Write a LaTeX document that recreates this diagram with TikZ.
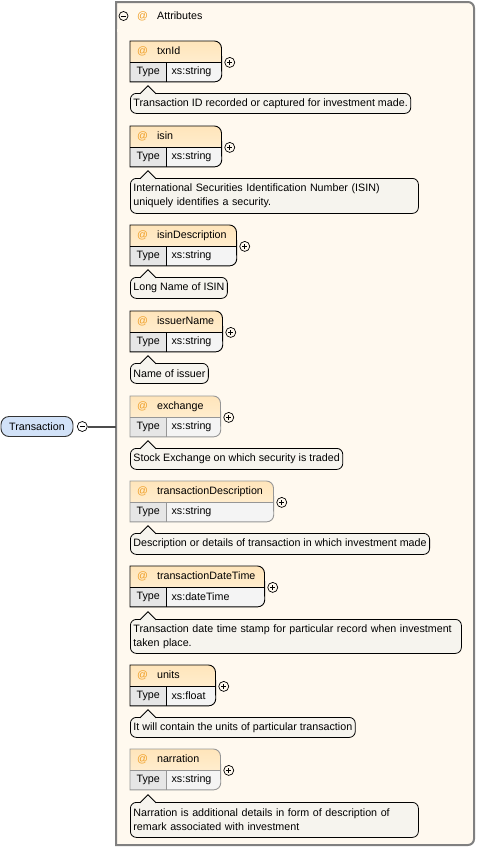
\documentclass[tikz,border=0pt]{standalone}
\usepackage{fontspec}
\setmainfont{Liberation Sans}
\usepackage{tikz}
\usetikzlibrary{positioning,calc,backgrounds}
\definecolor{paneCream}{RGB}{255,249,239}
\definecolor{paneGray}{RGB}{128,128,128}
\definecolor{nameTop}{RGB}{255,229,186}
\definecolor{nameBottom}{RGB}{255,244,224}
\definecolor{typeGray}{RGB}{230,230,230}
\definecolor{valueGray}{RGB}{244,244,244}
\definecolor{docFill}{RGB}{246,244,238}
\definecolor{atOrange}{RGB}{240,160,40}
\definecolor{rootBlue}{RGB}{210,226,248}
\definecolor{optGray}{RGB}{150,150,150}

\begin{document}
\begin{tikzpicture}[x=1pt, y=-1pt, font=\fontsize{10.7}{14}\selectfont,
    attname/.style={anchor=north west, minimum height=21, inner xsep=7, inner ysep=0, align=left},
    atttype/.style={anchor=north west, minimum width=36, minimum height=19, inner sep=0},
    attvalue/.style={anchor=north west, minimum height=19, inner xsep=5, inner ysep=0, align=left},
    attfill/.style={fill=valueGray, path picture={
        \shade[top color=nameTop, bottom color=nameBottom] (#1.north west) rectangle (#1.south east);
        \fill[typeGray] (#1T.north west) rectangle (#1T.south east);}},
    reqline/.style={draw=black, line width=0.9pt},
    optline/.style={draw=optGray, line width=0.9pt},
    expander/.style={circle, draw, line width=0.7pt, minimum size=10, inner sep=0,
        path picture={\draw ([xshift=-2.6pt]path picture bounding box.center) -- ([xshift=2.6pt]path picture bounding box.center)
                            ([yshift=-2.6pt]path picture bounding box.center) -- ([yshift=2.6pt]path picture bounding box.center);}},
    collapser/.style={circle, draw, line width=0.7pt, minimum size=10, inner sep=0,
        path picture={\draw ([xshift=-2.6pt]path picture bounding box.center) -- ([xshift=2.6pt]path picture bounding box.center);}},
    docnote/.style={anchor=north west, draw, line width=0.8pt, fill=docFill, rounded corners=6,
        inner xsep=3, inner ysep=0, minimum height=21, align=left},
    notetip/.style={draw, line width=0.8pt, preaction={fill=docFill}},
    pane/.style={draw=paneGray, line width=2pt, fill=paneCream},
    rootnode/.style={draw=black!80, line width=0.9pt, fill=rootBlue, rounded corners=8,
        minimum width=72, minimum height=20, inner sep=0},
    rootline/.style={draw=black!70, line width=2pt}]
  \useasboundingbox (0,0) rectangle (493,847);

  % root element
  \node[rootnode] (transaction) at (37,426.5) {Transaction};
  \node[collapser, right=3.5pt of transaction] (transToggle) {};
  \coordinate (attrPane) at (116,426.5);
  \draw[rootline] (transToggle) -- (attrPane);

  % attributes header
  \node[collapser, minimum size=9] (attrToggle) at (123.5,16) {};
  \node[text=atOrange, inner sep=0] (attrAt) at (142.5,16) {@};
  \node[anchor=west, inner sep=0] (attrTitle) at (157,16) {Attributes};
  \shade[left color=paneCream, middle color=black!30, right color=paneCream] (117,29.5) rectangle (388,31);

  % txnId
  \node[attname, text width=77pt] (txnId) at (130,41) {\textcolor{atOrange}{@}\kern9pt txnId};
  \node[atttype] (txnIdT) at (txnId.south west) {Type};
  \node[attvalue, text width=45pt] (txnIdV) at (txnIdT.north east) {xs:string};
  \draw[reqline] (txnIdT.north west) -- (txnIdV.north east) (txnIdT.north east) -- (txnIdT.south east);
  \node[expander, right=3pt of txnId.south east] (txnIdX) {};
  \node[docnote, minimum height=20] (txnIdD) at (130,93) {Transaction ID recorded or captured for investment made.};
  \draw[notetip] ([xshift=10pt,yshift=-0.8pt]txnIdD.north west) -- ++(8,-8) -- ++(8,8);

  % isin
  \node[attname, text width=77pt] (isin) at (130,126) {\textcolor{atOrange}{@}\kern9pt isin};
  \node[atttype] (isinT) at (isin.south west) {Type};
  \node[attvalue, text width=45pt] (isinV) at (isinT.north east) {xs:string};
  \draw[reqline] (isinT.north west) -- (isinV.north east) (isinT.north east) -- (isinT.south east);
  \node[expander, right=3pt of isin.south east] (isinX) {};
  \node[docnote, text width=282pt, minimum height=35] (isinD) at (130,178) {International Securities Identification Number (ISIN)\\uniquely identifies a security.};
  \draw[notetip] ([xshift=10pt,yshift=-0.8pt]isinD.north west) -- ++(8,-8) -- ++(8,8);

  % isinDescription
  \node[attname, text width=92pt] (isinDesc) at (130,225) {\textcolor{atOrange}{@}\kern9pt isinDescription};
  \node[atttype] (isinDescT) at (isinDesc.south west) {Type};
  \node[attvalue, text width=60pt] (isinDescV) at (isinDescT.north east) {xs:string};
  \draw[reqline] (isinDescT.north west) -- (isinDescV.north east) (isinDescT.north east) -- (isinDescT.south east);
  \node[expander, right=3pt of isinDesc.south east] (isinDescX) {};
  \node[docnote] (isinDescD) at (130,277) {Long Name of ISIN};
  \draw[notetip] ([xshift=10pt,yshift=-0.8pt]isinDescD.north west) -- ++(8,-8) -- ++(8,8);

  % issuerName
  \node[attname, text width=78pt] (issuer) at (130,311) {\textcolor{atOrange}{@}\kern9pt issuerName};
  \node[atttype] (issuerT) at (issuer.south west) {Type};
  \node[attvalue, text width=46pt] (issuerV) at (issuerT.north east) {xs:string};
  \draw[reqline] (issuerT.north west) -- (issuerV.north east) (issuerT.north east) -- (issuerT.south east);
  \node[expander, right=3pt of issuer.south east] (issuerX) {};
  \node[docnote, minimum height=20] (issuerD) at (130,363) {Name of issuer};
  \draw[notetip] ([xshift=10pt,yshift=-0.8pt]issuerD.north west) -- ++(8,-8) -- ++(8,8);

  % exchange (optional)
  \node[attname, text width=76pt] (exchange) at (130,396) {\textcolor{atOrange}{@}\kern9pt exchange};
  \node[atttype] (exchangeT) at (exchange.south west) {Type};
  \node[attvalue, text width=44pt] (exchangeV) at (exchangeT.north east) {xs:string};
  \draw[optline] (exchangeT.north west) -- (exchangeV.north east) (exchangeT.north east) -- (exchangeT.south east);
  \node[expander, right=3pt of exchange.south east] (exchangeX) {};
  \node[docnote] (exchangeD) at (130,448) {Stock Exchange on which security is traded};
  \draw[notetip] ([xshift=10pt,yshift=-0.8pt]exchangeD.north west) -- ++(8,-8) -- ++(8,8);

  % transactionDescription (optional)
  \node[attname, text width=129pt] (txnDesc) at (130,481) {\textcolor{atOrange}{@}\kern9pt transactionDescription};
  \node[atttype] (txnDescT) at (txnDesc.south west) {Type};
  \node[attvalue, text width=97pt] (txnDescV) at (txnDescT.north east) {xs:string};
  \draw[optline] (txnDescT.north west) -- (txnDescV.north east) (txnDescT.north east) -- (txnDescT.south east);
  \node[expander, right=3pt of txnDesc.south east] (txnDescX) {};
  \node[docnote] (txnDescD) at (130,533) {Description or details of transaction in which investment made};
  \draw[notetip] ([xshift=10pt,yshift=-0.8pt]txnDescD.north west) -- ++(8,-8) -- ++(8,8);

  % transactionDateTime
  \node[attname, text width=120pt] (txnTime) at (130,566) {\textcolor{atOrange}{@}\kern9pt transactionDateTime};
  \node[atttype] (txnTimeT) at (txnTime.south west) {Type};
  \node[attvalue, text width=88pt] (txnTimeV) at (txnTimeT.north east) {xs:dateTime};
  \draw[reqline] (txnTimeT.north west) -- (txnTimeV.north east) (txnTimeT.north east) -- (txnTimeT.south east);
  \node[expander, right=3pt of txnTime.south east] (txnTimeX) {};
  \node[docnote, text width=325pt, minimum height=34] (txnTimeD) at (130,619) {Transaction date time stamp for particular record when investment\\taken place.};
  \draw[notetip] ([xshift=10pt,yshift=-0.8pt]txnTimeD.north west) -- ++(8,-8) -- ++(8,8);

  % units
  \node[attname, text width=71pt] (units) at (130,665) {\textcolor{atOrange}{@}\kern9pt units};
  \node[atttype] (unitsT) at (units.south west) {Type};
  \node[attvalue, text width=39pt] (unitsV) at (unitsT.north east) {xs:float};
  \draw[reqline] (unitsT.north west) -- (unitsV.north east) (unitsT.north east) -- (unitsT.south east);
  \node[expander, right=3pt of units.south east] (unitsX) {};
  \node[docnote, minimum height=20] (unitsD) at (130,717) {It will contain the units of particular transaction};
  \draw[notetip] ([xshift=10pt,yshift=-0.8pt]unitsD.north west) -- ++(8,-8) -- ++(8,8);

  % narration (optional)
  \node[attname, text width=76pt] (narration) at (130,749) {\textcolor{atOrange}{@}\kern9pt narration};
  \node[atttype] (narrationT) at (narration.south west) {Type};
  \node[attvalue, text width=44pt] (narrationV) at (narrationT.north east) {xs:string};
  \draw[optline] (narrationT.north west) -- (narrationV.north east) (narrationT.north east) -- (narrationT.south east);
  \node[expander, right=3pt of narration.south east] (narrationX) {};
  \node[docnote, text width=282pt, minimum height=35] (narrationD) at (130,802) {Narration is additional details in form of description of\\remark associated with investment};
  \draw[notetip] ([xshift=10pt,yshift=-0.8pt]narrationD.north west) -- ++(8,-8) -- ++(8,8);

  % pane and box fills, behind everything
  \begin{scope}[on background layer]
    \path[pane] (116,845) -- (116,2) [rounded corners=6] -- (474,2) -- (474,845) [sharp corners] -- cycle;
    \path[attfill=txnId, reqline] (txnIdT.south west) -- (txnId.north west) [rounded corners=7] -- (txnId.north east) -- (txnIdV.south east) [sharp corners] -- cycle;
    \path[attfill=isin, reqline] (isinT.south west) -- (isin.north west) [rounded corners=7] -- (isin.north east) -- (isinV.south east) [sharp corners] -- cycle;
    \path[attfill=isinDesc, reqline] (isinDescT.south west) -- (isinDesc.north west) [rounded corners=7] -- (isinDesc.north east) -- (isinDescV.south east) [sharp corners] -- cycle;
    \path[attfill=issuer, reqline] (issuerT.south west) -- (issuer.north west) [rounded corners=7] -- (issuer.north east) -- (issuerV.south east) [sharp corners] -- cycle;
    \path[attfill=exchange, optline] (exchangeT.south west) -- (exchange.north west) [rounded corners=7] -- (exchange.north east) -- (exchangeV.south east) [sharp corners] -- cycle;
    \path[attfill=txnDesc, optline] (txnDescT.south west) -- (txnDesc.north west) [rounded corners=7] -- (txnDesc.north east) -- (txnDescV.south east) [sharp corners] -- cycle;
    \path[attfill=txnTime, reqline] (txnTimeT.south west) -- (txnTime.north west) [rounded corners=7] -- (txnTime.north east) -- (txnTimeV.south east) [sharp corners] -- cycle;
    \path[attfill=units, reqline] (unitsT.south west) -- (units.north west) [rounded corners=7] -- (units.north east) -- (unitsV.south east) [sharp corners] -- cycle;
    \path[attfill=narration, optline] (narrationT.south west) -- (narration.north west) [rounded corners=7] -- (narration.north east) -- (narrationV.south east) [sharp corners] -- cycle;
  \end{scope}
\end{tikzpicture}
\end{document}
